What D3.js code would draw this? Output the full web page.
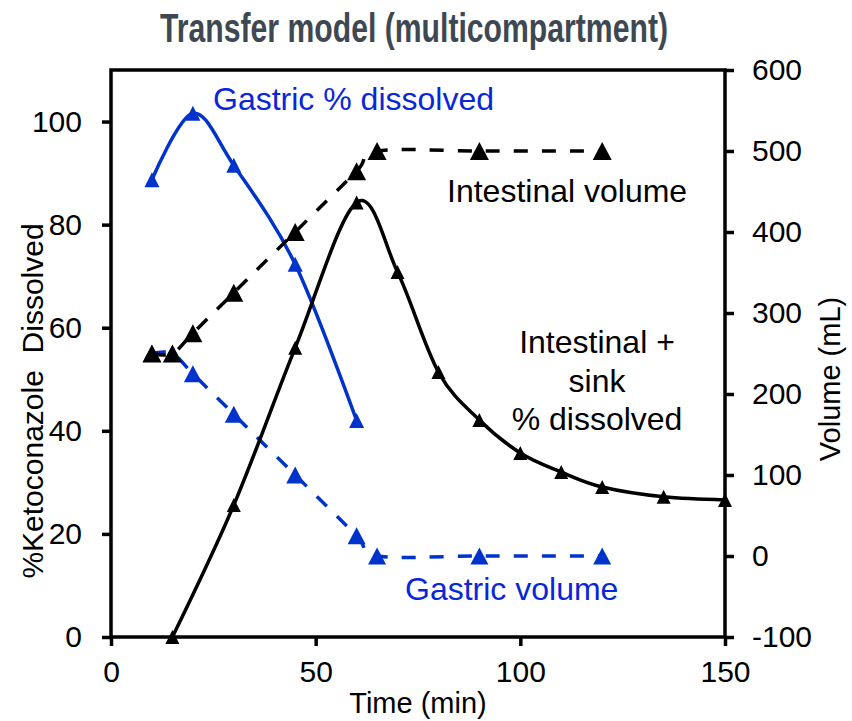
<!DOCTYPE html>
<html>
<head>
<meta charset="utf-8">
<script src="https://cdn.jsdelivr.net/npm/d3@7"></script>
<style>
  html, body { margin: 0; padding: 0; background: #fff; }
  svg text { font-family: "Liberation Sans", Arial, sans-serif; }
</style>
</head>
<body>
<svg id="chart" width="852" height="721"></svg>
<script>
// Time points (min) and series values
const gastricDissolvedT = [10, 20, 30, 45, 60];
const gastricDissolved  = [88.7, 101.6, 91.5, 72.3, 42.0];

const gastricVolumeT = [10, 15, 20, 30, 45, 60, 65, 90, 120];
const gastricVolume  = [250, 250, 225, 175, 100, 25, 0, 0, 0];

const intestinalVolumeT = [10, 15, 20, 30, 45, 60, 65, 90, 120];
const intestinalVolume  = [250, 250, 275, 325, 400, 475, 500, 500, 500];

const intestinalDissolvedT = [15, 30, 45, 60, 70, 80, 90, 100, 110, 120, 135, 150];
const intestinalDissolved  = [0, 25.6, 56.1, 84.3, 70.8, 51.4, 42.1, 35.7, 32.0, 29.1, 27.2, 26.6];

const xTicks = [0, 50, 100, 150];
const yLeftTicks = [0, 20, 40, 60, 80, 100];
const yRightTicks = [-100, 0, 100, 200, 300, 400, 500, 600];

const svg = d3.select("#chart");
const plot = { left: 111, right: 725, top: 70, bottom: 637 };

const x  = d3.scaleLinear().domain([0, 150]).range([plot.left, plot.right]);
const yL = d3.scaleLinear().domain([0, 110]).range([plot.bottom, plot.top]);
const yR = d3.scaleLinear().domain([-100, 600]).range([plot.bottom, plot.top]);

const BLUE = "#0033cc";
const BLUE_TEXT = "#0a26d9";

// Title
svg.append("text")
  .attr("x", 414).attr("y", 42)
  .attr("text-anchor", "middle")
  .attr("font-size", 40).attr("font-weight", "bold")
  .attr("fill", "#3e4852")
  .attr("textLength", 508).attr("lengthAdjust", "spacingAndGlyphs")
  .text("Transfer model (multicompartment)");

// Axes (plain hyphen for negative numbers)
const tickFont = 30;
const plain = d => String(d);
function styleAxis(g) {
  g.select(".domain").remove();
  g.selectAll(".tick line").attr("stroke", "#000").attr("stroke-width", 3.5);
  g.selectAll(".tick text").attr("font-size", tickFont).attr("fill", "#000")
    .attr("font-family", "Liberation Sans, Arial, sans-serif");
}

svg.append("g")
  .attr("transform", `translate(0,${plot.bottom})`)
  .call(d3.axisBottom(x).tickValues(xTicks).tickSize(9).tickPadding(15).tickFormat(plain))
  .call(styleAxis);

svg.append("g")
  .attr("transform", `translate(${plot.left},0)`)
  .call(d3.axisLeft(yL).tickValues(yLeftTicks).tickSize(9).tickPadding(20).tickFormat(plain))
  .call(styleAxis);

svg.append("g")
  .attr("transform", `translate(${plot.right},0)`)
  .call(d3.axisRight(yR).tickValues(yRightTicks).tickSize(9).tickPadding(18).tickFormat(plain))
  .call(styleAxis);

// Plot frame
svg.append("rect")
  .attr("x", plot.left).attr("y", plot.top)
  .attr("width", plot.right - plot.left).attr("height", plot.bottom - plot.top)
  .attr("fill", "none").attr("stroke", "#000").attr("stroke-width", 3.5);

// Axis titles
svg.append("text")
  .attr("x", 418).attr("y", 713)
  .attr("text-anchor", "middle").attr("font-size", 29)
  .text("Time (min)");

svg.append("text")
  .attr("transform", "translate(43,401) rotate(-90)")
  .attr("text-anchor", "middle").attr("font-size", 30)
  .style("white-space", "pre")
  .text("%Ketoconazole  Dissolved");

svg.append("text")
  .attr("transform", "translate(840,379) rotate(-90)")
  .attr("text-anchor", "middle").attr("font-size", 29)
  .text("Volume (mL)");

// Series
const smooth = d3.curveCatmullRom.alpha(0);
function triangle(w, h) {
  return `M0,${-h / 2}L${w / 2},${h / 2}L${-w / 2},${h / 2}Z`;
}

function drawSeries(ts, vs, yScale, color, dash, mw, mh) {
  const pts = ts.map((t, i) => [x(t), yScale(vs[i])]);
  svg.append("path")
    .attr("d", d3.line().curve(smooth)(pts))
    .attr("fill", "none").attr("stroke", color).attr("stroke-width", 3.5)
    .attr("stroke-dasharray", dash || null);
  svg.append("g").selectAll("path")
    .data(pts).join("path")
    .attr("transform", d => `translate(${d[0]},${d[1]})`)
    .attr("d", triangle(mw, mh))
    .attr("fill", color);
}

drawSeries(gastricDissolvedT, gastricDissolved, yL, BLUE, null, 15, 15);
drawSeries(gastricVolumeT, gastricVolume, yR, BLUE, "14,14", 18, 17);
drawSeries(intestinalDissolvedT, intestinalDissolved, yL, "#000", null, 14, 14);
drawSeries(intestinalVolumeT, intestinalVolume, yR, "#000", "14,14", 19, 18);

// Series annotations
const annFont = 32;
svg.append("text").attr("x", 213).attr("y", 110)
  .attr("font-size", annFont).attr("fill", BLUE_TEXT)
  .text("Gastric % dissolved");

svg.append("text").attr("x", 447).attr("y", 202)
  .attr("font-size", annFont).attr("fill", "#000")
  .text("Intestinal volume");

const multi = svg.append("text").attr("font-size", annFont).attr("fill", "#000")
  .attr("text-anchor", "middle");
[["Intestinal +", 353], ["sink", 392], ["% dissolved", 430]].forEach(([s, yy]) => {
  multi.append("tspan").attr("x", 597).attr("y", yy).text(s);
});

svg.append("text").attr("x", 405).attr("y", 600)
  .attr("font-size", annFont).attr("fill", BLUE_TEXT)
  .text("Gastric volume");
</script>
</body>
</html>
